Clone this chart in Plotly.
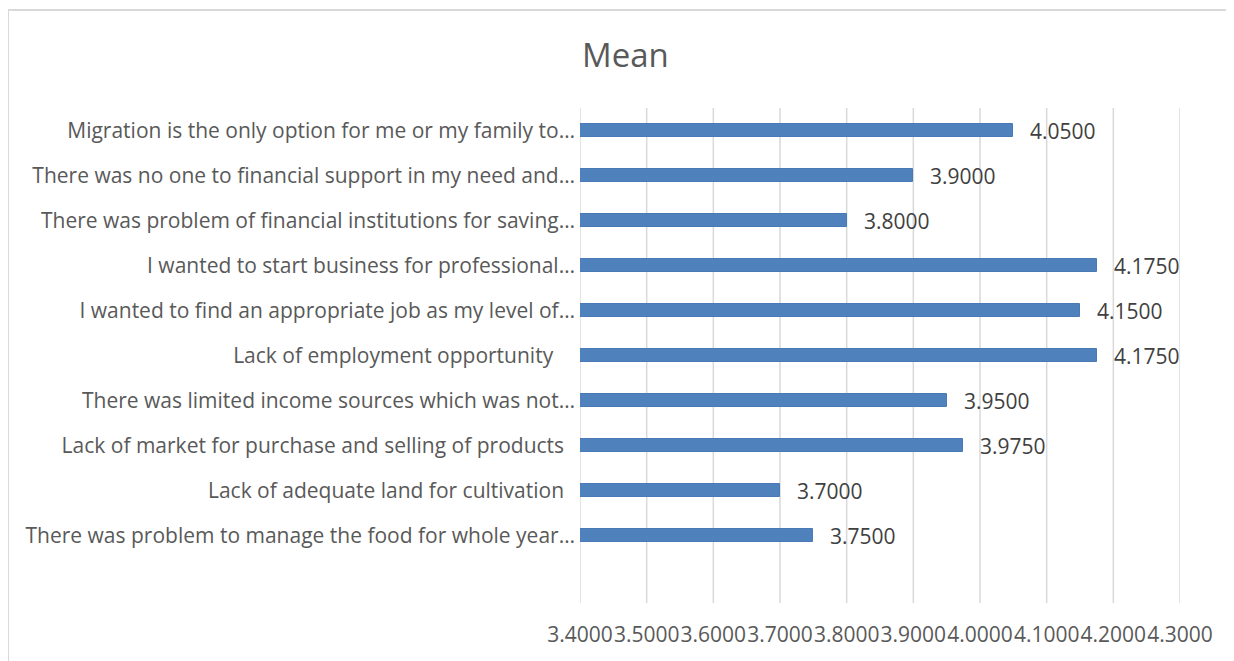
import plotly.graph_objects as go

categories = [
    "There was problem to manage the food for whole year…",
    "Lack of adequate land for cultivation\u00a0\u00a0",
    "Lack of market for purchase and selling of products\u00a0\u00a0",
    "There was limited income sources which was not…",
    "Lack of employment opportunity\u00a0\u00a0\u00a0\u00a0",
    "I wanted to find an appropriate job as my level of…",
    "I wanted to start business for professional…",
    "There was problem of financial institutions for saving…",
    "There was no one to financial support in my need and…",
    "Migration is the only option for me or my family to…",
]
means = [3.75, 3.70, 3.975, 3.95, 4.175, 4.15, 4.175, 3.80, 3.90, 4.05]
tick_vals = [3.4, 3.5, 3.6, 3.7, 3.8, 3.9, 4.0, 4.1, 4.2, 4.3]
tick_text = ["%.4f" % v for v in tick_vals]
title_text = "Mean"

W, H = 1234, 661
OFF = 8  # page body margin
L, R, T, B = 580 - OFF, W - (1180 - OFF), 108 - OFF, H - (603 - OFF)

FONT = "Open Sans"
GRAY = "#595959"

idx = list(range(len(categories)))

fig = go.Figure()
fig.add_trace(go.Bar(
    y=idx, x=means, orientation="h", width=0.31,
    marker=dict(color="#4f81bd", line=dict(color="#4a7ab5", width=1)),
    hoverinfo="x",
))

for i, v in zip(idx, means):
    fig.add_annotation(x=v, y=i, xref="x", yref="y", text="%.4f" % v,
                       showarrow=False, xanchor="left", xshift=15,
                       font=dict(family=FONT, size=21, color="#404040"))

# vertical gridlines at each tick (including both ends of the axis)
for tv in tick_vals:
    fig.add_shape(type="line", xref="x", yref="paper", x0=tv, x1=tv, y0=0, y1=1,
                  line=dict(color="#d9d9d9", width=1.5), layer="below")

def px_x(p):
    return (p - OFF - L) / (W - L - R)

def px_y(p):
    return 1 - (p - OFF - T) / (H - T - B)

fig.add_shape(type="rect", xref="paper", yref="paper",
              x0=px_x(8), x1=px_x(1250), y0=px_y(680), y1=px_y(10),
              line=dict(color="#d9d9d9", width=2), fillcolor="rgba(0,0,0,0)", layer="below")

fig.add_annotation(xref="paper", yref="paper", x=px_x(625), y=px_y(55),
                   text=title_text, showarrow=False, xanchor="center", yanchor="middle",
                   font=dict(family=FONT, size=33, color=GRAY))

fig.update_layout(
    width=W, height=H,
    margin=dict(l=L, r=R, t=T, b=B, autoexpand=False),
    plot_bgcolor="white", paper_bgcolor="white",
    showlegend=False, bargap=0,
    xaxis=dict(range=[3.4, 4.3], tickvals=tick_vals, ticktext=tick_text,
               showgrid=False, zeroline=False, showline=False, ticks="",
               tickangle=0,
               ticklabelstandoff=17,
               tickfont=dict(family=FONT, size=21, color=GRAY)),
    yaxis=dict(range=[-1.5, 9.5], tickvals=idx, ticktext=categories,
               showgrid=False, zeroline=False, showline=False, ticks="",
               ticklabelstandoff=4,
               tickfont=dict(family=FONT, size=21, color=GRAY)),
)

fig.write_html("out.html")
